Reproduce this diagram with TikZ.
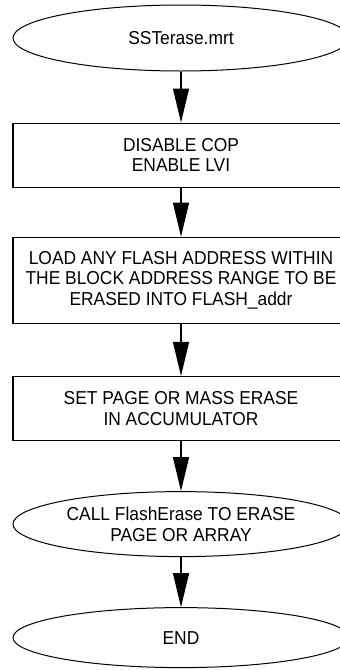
\documentclass[tikz,border=0pt]{standalone}
\usepackage{fontspec}
\setmainfont{Liberation Sans}[FakeStretch=0.93]
\usetikzlibrary{shapes.geometric, arrows.meta, positioning}
\tikzstyle{ellNode} = [ellipse, minimum width=336pt, inner sep=0pt, text centered, align=center, draw=black, line width=1pt]
\tikzstyle{recNode} = [rectangle, minimum width=336pt, minimum height=64pt, text centered, align=center, draw=black, line width=1.2pt]
\tikzstyle{arrow} = [line width=1.2pt, -{Triangle[length=34pt,width=16pt]}, draw=black]

\begin{document}
\begin{tikzpicture}[x=1pt, y=-1pt, node distance=50pt, font=\fontsize{18.7}{20.5}\selectfont]
        \useasboundingbox (0,0) rectangle (340,670);
        \node (start) [ellNode, minimum height=66pt] at (181,38) {SSTerase.mrt};
        \node (cop) [recNode, below=51pt of start] {DISABLE COP\\ENABLE LVI};
        \node (addr) [recNode, below=49pt of cop, minimum height=86pt] {LOAD ANY FLASH ADDRESS WITHIN\\THE BLOCK ADDRESS RANGE TO BE\\ERASED INTO FLASH\_addr};
        \node (acc) [recNode, below=52pt of addr] {SET PAGE OR MASS ERASE\\IN ACCUMULATOR};
        \node (call) [ellNode, below=of acc, minimum height=65pt] {CALL FlashErase TO ERASE\\PAGE OR ARRAY};
        \node (end) [ellNode, below=of call, minimum height=60pt] {END};
        
        \draw [arrow] (start) -- (cop);
        \draw [arrow] (cop) -- (addr);
        \draw [arrow] (addr) -- (acc);
        \draw [arrow] (acc) -- (call);
        \draw [arrow] (call) -- (end);
        
    \end{tikzpicture}
\end{document}
